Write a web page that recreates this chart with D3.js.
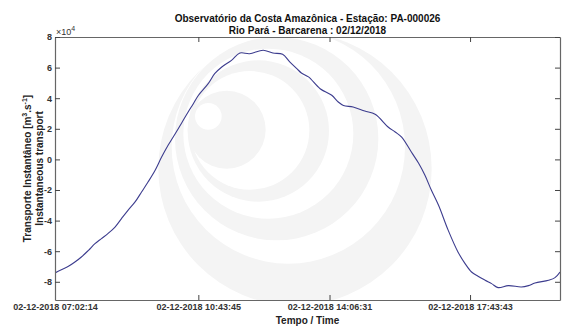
<!DOCTYPE html>
<html>
<head>
<meta charset="utf-8">
<script src="https://cdn.jsdelivr.net/npm/d3@7"></script>
<style>
  html, body { margin: 0; padding: 0; background: #fff; }
  svg { display: block; }
  text { font-family: "Liberation Sans", Arial, Helvetica, sans-serif; }
</style>
</head>
<body>
<svg id="chart" width="580" height="333"></svg>
<script>
// ---- data ----
const titleLines = ["Observatório da Costa Amazônica - Estação: PA-000026", "Rio Pará - Barcarena : 02/12/2018"];
const dateLabel = "02-12-2018";
const timeDomain = ["07:02:14", "20:02:43"];
const xTickTimes = ["07:02:14", "10:43:45", "14:06:31", "17:43:43"];
const yTickValues = [-80000, -60000, -40000, -20000, 0, 20000, 40000, 60000, 80000];
const yDomain = [-91900, 80000];
const times = [
  "07:02:14","07:12:00","07:23:00","07:33:00","07:43:00","07:54:00","08:04:00","08:14:00",
  "08:24:00","08:35:00","08:45:00","08:55:00","09:06:00","09:16:00","09:26:00","09:37:00",
  "09:47:00","09:57:00","10:08:00","10:18:00","10:28:00","10:36:00","10:44:00","10:59:00",
  "11:09:00","11:20:00","11:35:00","11:48:00","12:03:00","12:24:00","12:39:00","12:54:00",
  "13:05:00","13:16:00","13:23:00","13:34:00","13:52:00","14:10:00","14:20:00","14:28:00",
  "14:43:00","15:01:00","15:17:00","15:37:00","15:48:00","15:58:00","16:13:00","16:24:00",
  "16:34:00","16:44:00","16:55:00","17:10:00","17:25:00","17:36:00","17:46:00","17:56:00",
  "18:07:00","18:17:00","18:27:00","18:43:00","19:03:00","19:14:00","19:24:00","19:45:00",
  "19:55:00","20:02:43"
];
const transport = [
  -74200,-72100,-69900,-67100,-63800,-59400,-55100,-51800,
  -48500,-44200,-38700,-33300,-27800,-21300,-14800,-7100,
  1500,9200,16800,23800,31000,36400,41900,49500,
  56000,60400,64700,69500,69100,71300,69500,68700,
  63700,59300,56500,53900,46200,41900,37500,35300,
  34200,31600,29500,21200,17900,14600,4800,-2400,
  -10400,-20200,-30000,-46400,-60500,-68100,-73600,-76400,
  -79000,-81200,-83800,-82500,-83400,-82500,-80800,-79000,
  -77300,-73600
];

// ---- layout ----
const svg = d3.select("#chart");
const plot = { left: 55, right: 560, top: 37, bottom: 300 };
const parseT = d3.timeParse("%H:%M:%S");

const x = d3.scaleTime()
  .domain(timeDomain.map(parseT))
  .range([plot.left, plot.right]);
const y = d3.scaleLinear()
  .domain(yDomain)
  .range([plot.bottom, plot.top]);

const data = times.map((t, i) => ({ t: parseT(t), v: transport[i] }));

// clip
svg.append("defs").append("clipPath").attr("id", "clip")
  .append("rect")
  .attr("x", plot.left).attr("y", plot.top)
  .attr("width", plot.right - plot.left).attr("height", plot.bottom - plot.top);

// watermark logo (decorative)
const wm = svg.append("g").attr("clip-path", "url(#clip)");
const Z = (zx, zy, zr, fill) => wm.append("circle")
  .attr("cx", plot.left + zx / 3).attr("cy", plot.top + zy / 3).attr("r", zr / 3).attr("fill", fill);
const G = "#f4f4f4", W = "#ffffff";
Z(720, 395, 410, G);
Z(700, 330, 350, W);
Z(665, 305, 305, G);
Z(640, 290, 255, W);
Z(610, 282, 212, G);
Z(585, 280, 178, W);
Z(515, 278, 117, G);
Z(460, 238, 40, W);

// line
const line = d3.line()
  .x(d => x(d.t))
  .y(d => y(d.v))
  .curve(d3.curveCatmullRom.alpha(0.5));

svg.append("path")
  .datum(data)
  .attr("clip-path", "url(#clip)")
  .attr("fill", "none")
  .attr("stroke", "#3c3c8e")
  .attr("stroke-width", 1.1)
  .attr("d", line);

// axes
const axisColor = "#666";
const tickLen = 5;
const xTicks = xTickTimes.map(parseT);

const xAxisB = d3.axisBottom(x).tickValues(xTicks).tickSizeInner(-tickLen).tickSizeOuter(0)
  .tickPadding(4).tickFormat(d => dateLabel + " " + d3.timeFormat("%H:%M:%S")(d));
const xAxisT = d3.axisTop(x).tickValues(xTicks).tickSizeInner(-tickLen).tickSizeOuter(0).tickFormat("");
const yAxisL = d3.axisLeft(y).tickValues(yTickValues).tickSizeInner(-tickLen).tickSizeOuter(0)
  .tickPadding(3).tickFormat(d => d / 10000);
const yAxisR = d3.axisRight(y).tickValues(yTickValues).tickSizeInner(-tickLen).tickSizeOuter(0).tickFormat("");

function style(g) {
  g.selectAll(".domain").attr("stroke", axisColor).attr("stroke-width", 1.2);
  g.selectAll(".tick line").attr("stroke", "#444").attr("stroke-width", 1);
  g.selectAll(".tick text").attr("fill", "#333").style("font-size", "9px").style("font-weight", "bold")
    .style("font-family", '"Liberation Sans", Arial, sans-serif');
}
svg.append("g").attr("transform", `translate(0,${plot.bottom})`).call(xAxisB).call(style);
svg.append("g").attr("transform", `translate(0,${plot.top})`).call(xAxisT).call(style);
svg.append("g").attr("transform", `translate(${plot.left},0)`).call(yAxisL).call(style);
svg.append("g").attr("transform", `translate(${plot.right},0)`).call(yAxisR).call(style);

// exponent label
const ex = svg.append("text").attr("x", plot.left + 1).attr("y", plot.top - 2)
  .attr("fill", "#333").style("font-size", "9px");
ex.append("tspan").text("×10");
ex.append("tspan").attr("dy", -4).style("font-size", "7px").text("4");

// titles
const cx = (plot.left + plot.right) / 2;
svg.append("text").attr("x", cx).attr("y", 22).attr("text-anchor", "middle")
  .attr("fill", "#111").style("font-size", "10px").style("font-weight", "bold").text(titleLines[0]);
svg.append("text").attr("x", cx).attr("y", 34).attr("text-anchor", "middle")
  .attr("fill", "#111").style("font-size", "10px").style("font-weight", "bold").text(titleLines[1]);

// x label
svg.append("text").attr("x", cx).attr("y", 324).attr("text-anchor", "middle")
  .attr("fill", "#222").style("font-size", "10px").style("font-weight", "bold").text("Tempo / Time");

// y labels
const cy = (plot.top + plot.bottom) / 2;
const yl1 = svg.append("text").attr("transform", `translate(31,${cy}) rotate(-90)`).attr("text-anchor", "middle")
  .attr("fill", "#222").style("font-size", "10px").style("font-weight", "bold");
yl1.append("tspan").text("Transporte Instantâneo [m");
yl1.append("tspan").attr("dy", -4).style("font-size", "7px").text("3");
yl1.append("tspan").attr("dy", 4).text(".s");
yl1.append("tspan").attr("dy", -4).style("font-size", "7px").text("-1");
yl1.append("tspan").attr("dy", 4).text("]");
svg.append("text").attr("transform", `translate(43,${cy}) rotate(-90)`).attr("text-anchor", "middle")
  .attr("fill", "#222").style("font-size", "10px").style("font-weight", "bold").text("Instantaneous transport");
</script>
</body>
</html>
